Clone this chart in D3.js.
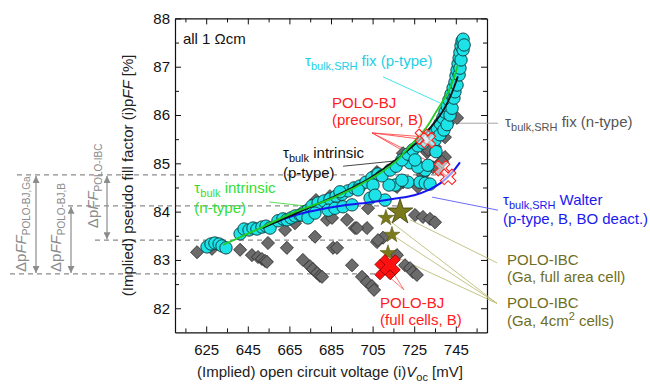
<!DOCTYPE html>
<html>
<head>
<meta charset="utf-8">
<script src="https://cdn.jsdelivr.net/npm/d3@7"></script>
<style>
  body { margin: 0; background: #fff; }
  svg { font-family: "Liberation Sans", Arial, sans-serif; }
</style>
</head>
<body>
<script>
// ---- data ----
const xTicks = [615, 625, 635, 645, 655, 665, 675, 685, 695, 705, 715, 725, 735, 745, 755];
const xTickLabels = [625, 645, 665, 685, 705, 725, 745];
const yTicks = [82, 82.5, 83, 83.5, 84, 84.5, 85, 85.5, 86, 86.5, 87, 87.5, 88];
const yTickLabels = [82, 83, 84, 85, 86, 87, 88];

// cyan circles: tau_bulk,SRH fix (p-type) simulations [Voc, pFF]
const cyanPoints = [
  [625.4,83.27],[627.3,83.33],[629.2,83.35],[631.2,83.33],[632.6,83.29],[634.5,83.25],
  [641.3,83.54],[643.2,83.64],[645.6,83.62],[647.5,83.66],[649.4,83.64],[651.8,83.68],[653.8,83.70],[655.7,83.66],
  [659.5,83.81],[661.9,83.85],[663.8,83.83],[665.8,83.87],[667.7,83.91],[670.1,83.93],[672.0,83.99],[673.9,84.03],
  [675.9,84.12],[678.8,84.18],[681.6,84.22],[684.5,84.26],[687.4,84.32],[690.3,84.36],[693.2,84.43],[696.1,84.49],
  [698.9,84.53],[701.8,84.61],[704.7,84.70],[707.6,84.78],
  [670.9,83.93],[673.9,83.87],[677.3,83.97],[683.6,84.03],[686.9,84.07],[690.8,84.10],[695.1,84.14],[703.8,84.28],[711.0,84.24],
  [689.3,84.41],[698.0,84.45],[705.2,84.55],[706.2,84.34],[715.8,84.55],
  [712.9,84.55],[722.0,84.61],[727.8,84.61],[730.3,84.59],[732.6,84.57],[730.3,84.86],[723.0,85.01],
  [709.5,84.74],[713.4,84.86],[716.3,84.94],[719.1,85.07],[722.0,85.19],[724.4,85.28],[726.8,85.36],[729.2,85.42],
  [731.6,85.52],[734.0,85.63],[736.0,85.73],[737.4,85.83],[738.8,85.94],[739.8,86.06],[740.8,86.19],[741.7,86.31],
  [742.7,86.43],[743.7,86.56],[744.6,86.68],[745.1,86.81],[745.6,86.93],[746.1,87.06],[746.6,87.18],[747.0,87.30],
  [747.5,87.43],[748.0,87.53],[748.5,87.57],
  [735.0,85.48],[737.4,85.59],[739.3,85.69],[740.8,85.80],[742.2,86.00],[743.2,86.14],[744.1,86.35],[744.6,86.48],
  [745.6,86.62],[746.6,86.83],[747.0,86.97],[747.5,87.14],[748.5,87.35],[749.0,87.45],
  [719.1,84.65],[726.8,84.92],[731.6,84.96],[735.5,85.24],[725.4,85.07]
];

// grey diamonds: tau_bulk,SRH fix (n-type) simulations [Voc, pFF]
const greyPoints = [
  [620.6,83.16],[627.8,83.23],[641.3,83.21],[647.0,83.10],[649.9,83.06],[651.8,83.02],[653.3,82.98],[654.2,82.96],
  [654.7,83.35],[662.9,83.62],[663.8,83.25],[671.5,83.00],[674.9,82.87],[676.3,82.81],[678.3,82.73],[679.7,82.67],
  [680.7,82.65],[683.1,83.83],[686.0,83.25],[695.1,82.89],[699.9,82.65],[702.3,82.54],[704.7,82.46],[705.7,82.38],
  [702.3,83.66],[692.7,83.83],[702.8,84.07],[677.3,83.48],[687.9,83.25],[707.1,83.37],[710.0,83.46],[716.7,83.10],
  [720.6,82.89],[723.0,82.83],[724.4,82.75],[726.3,82.69],[725.4,83.93],[729.2,83.89],[732.6,83.85],[735.0,83.78],
  [696.5,83.66],[707.6,83.41],[719.6,85.21],[718.2,84.61],[707.1,84.82],[685.5,83.87],[697.5,83.66],[667.7,83.76],
  [742.2,85.96],[741.3,85.83],[745.6,85.94],[739.8,85.54],[735.0,85.34],[731.2,85.23],[723.0,85.13],[719.6,84.61],
  [716.7,84.51],[739.8,85.13],[737.4,85.01],[734.0,84.92],[736.4,84.90],[731.6,85.28],[738.4,85.03],[729.2,84.76],
  [726.8,84.51],[677.8,84.24],[684.5,84.32]
];

// model curves
const greenCurve = [[633,83.31],[652,83.68],[668,84.0],[687,84.30],[705,84.70],[716,85.03],[720,85.21],[727,85.55],[731,85.75],[736,86.1],[741,86.45],[744,86.75],[746,87.04]];
const blackCurve = [[652,83.66],[668,83.96],[687,84.32],[700,84.6],[710,84.88],[720,85.2],[728,85.5],[734,85.8],[739,86.1],[743,86.45],[746,86.8]];
const blueCurve = [[658,83.78],[668,83.93],[678,84.03],[690,84.12],[705,84.2],[716,84.27],[725,84.34],[732,84.45],[738,84.6],[743,84.8],[747,85.02]];

// measured samples
const precursorBJ = [[729.2,85.55],[731.6,85.48],[738.4,84.90],[741.3,84.72]];
const fullCellsBJ = [[711.0,82.80],[713.4,82.90]];
const iBCfullArea = [[718.2,83.99]];
const iBC4cm2 = [[711.4,83.87],[714.3,83.52],[712.4,83.14]];

// pFF reference levels
const pffLevels = [84.76, 84.12, 83.41, 82.71];

// ---- layout ----
const width = 650, height = 384;
const svg = d3.select("body").append("svg").attr("width", width).attr("height", height);

const x = d3.scaleLinear().domain([610, 760]).range([175, 487]);
const y = d3.scaleLinear().domain([81.5, 88]).range([332.4, 18.4]);

const grey = "#8c8c8c";
const defs = svg.append("defs");
["start", "end"].forEach(k => {
  defs.append("marker")
    .attr("id", "arr-" + k)
    .attr("viewBox", "0 0 10 10")
    .attr("refX", k === "end" ? 10 : 0).attr("refY", 5)
    .attr("markerWidth", 7).attr("markerHeight", 7)
    .attr("markerUnits", "userSpaceOnUse")
    .attr("orient", "auto")
    .append("path")
    .attr("d", k === "end" ? "M0,0L10,5L0,10z" : "M10,0L0,5L10,10z")
    .attr("fill", grey);
});

// dashed reference lines (left start in px, right end in data)
const dashStart = [17, 68, 95, 10];
const dashEnd = [740, 718, 713, 711];
svg.selectAll("line.dash").data(pffLevels).enter().append("line")
  .attr("class", "dash")
  .attr("x1", (d, i) => dashStart[i]).attr("x2", (d, i) => x(dashEnd[i]))
  .attr("y1", d => y(d)).attr("y2", d => y(d))
  .attr("stroke", grey).attr("stroke-width", 1.2).attr("stroke-dasharray", "5,4");

// delta pFF arrows
const arrows = [
  { px: 36, from: pffLevels[0], to: pffLevels[3], lx: 26, sub: "POLO-BJ,Ga" },
  { px: 71, from: pffLevels[1], to: pffLevels[3], lx: 61, sub: "POLO-BJ,B" },
  { px: 107, from: pffLevels[0], to: pffLevels[2], lx: 98, sub: "POLO-IBC" }
];
svg.selectAll("line.arrow").data(arrows).enter().append("line")
  .attr("x1", d => d.px).attr("x2", d => d.px)
  .attr("y1", d => y(d.from) + 1).attr("y2", d => y(d.to) - 1)
  .attr("stroke", grey).attr("stroke-width", 1.2)
  .attr("marker-start", "url(#arr-start)").attr("marker-end", "url(#arr-end)");
arrows.forEach(a => {
  const t = svg.append("text")
    .attr("transform", `translate(${a.lx},${y(a.to) - 2 - (a.sub === "POLO-IBC" ? 10 : 0)}) rotate(-90)`)
    .attr("fill", grey).attr("font-size", 15);
  t.append("tspan").text("\u0394p");
  t.append("tspan").attr("font-style", "italic").text("FF");
  t.append("tspan").attr("font-size", 10).attr("dy", 4).text(a.sub);
});

// axes
const fmtX = d => xTickLabels.includes(d) ? d : "";
const fmtY = d => yTickLabels.includes(d) ? d : "";
const gB = svg.append("g").attr("transform", `translate(0,${y(81.5)})`)
  .call(d3.axisBottom(x).tickValues(xTicks).tickSize(-5).tickSizeOuter(0).tickPadding(12).tickFormat(fmtX));
const gT = svg.append("g").attr("transform", `translate(0,${y(88)})`)
  .call(d3.axisTop(x).tickValues(xTicks).tickSize(-5).tickSizeOuter(0).tickFormat(""));
const gL = svg.append("g").attr("transform", `translate(${x(610)},0)`)
  .call(d3.axisLeft(y).tickValues(yTicks).tickSize(-5).tickSizeOuter(0).tickPadding(5).tickFormat(fmtY));
const gR = svg.append("g").attr("transform", `translate(${x(760)},0)`)
  .call(d3.axisRight(y).tickValues(yTicks).tickSize(-5).tickSizeOuter(0).tickFormat(""));
[gB, gT, gL, gR].forEach(g => {
  g.selectAll("text").attr("font-size", 15).attr("fill", "#111")
    .attr("font-family", "Liberation Sans, Arial, sans-serif");
  g.select(".domain").attr("stroke", "#111").attr("stroke-width", 1.2);
  g.selectAll(".tick line").attr("stroke", "#111");
});
gB.selectAll(".tick line").attr("y2", d => xTickLabels.includes(d) ? -6 : -4);
gT.selectAll(".tick line").attr("y2", d => xTickLabels.includes(d) ? 6 : 4);
gL.selectAll(".tick line").attr("x2", d => Number.isInteger(d) ? 6 : 4);
gR.selectAll(".tick line").attr("x2", d => Number.isInteger(d) ? -6 : -4);

// axis titles
const yl = svg.append("text").attr("transform", `translate(133,${(y(81.5) + y(88)) / 2}) rotate(-90)`)
  .attr("text-anchor", "middle").attr("font-size", 15).attr("fill", "#222");
yl.append("tspan").text("(Implied) pseudo fill factor (i)p");
yl.append("tspan").attr("font-style", "italic").text("FF");
yl.append("tspan").text(" [%]");
const xl = svg.append("text").attr("x", 330).attr("y", 377)
  .attr("text-anchor", "middle").attr("font-size", 15).attr("fill", "#222");
xl.append("tspan").text("(Implied) open circuit voltage (i)");
xl.append("tspan").attr("font-style", "italic").text("V");
xl.append("tspan").attr("font-size", 11).attr("dy", 4).text("oc");
xl.append("tspan").attr("dy", -4).text(" [mV]");

// leader lines
const olive = "#7a7a1c";
const leaders = [
  { p: [[710, 86.79], [737.4, 86.25]], c: "#33e0ee" },
  { p: [[704.7, 85.63], [729.2, 85.55]], c: "#ff4a4a" },
  { p: [[704.7, 85.63], [731.6, 85.48]], c: "#ff4a4a" },
  { p: [[704.7, 85.63], [738.4, 84.90]], c: "#ff4a4a" },
  { p: [[704.7, 85.63], [741.3, 84.72]], c: "#ff4a4a" },
  { p: [[690.8, 84.94], [720.6, 85.07]], c: "#333" },
  { p: [[655.3, 84.20], [672, 84.12]], c: "#44dd44" },
  { p: [[745.6, 85.83], [765.3, 85.83]], c: "#999" },
  { p: [[733.6, 84.30], [765.3, 84.03]], c: "#5a5aff" },
  { p: [[723, 83.83], [764.8, 82.94]], c: "#bdbd78" },
  { p: [[711.4, 83.87], [764.8, 82.10]], c: "#bdbd78" },
  { p: [[714.3, 83.52], [764.8, 82.10]], c: "#bdbd78" },
  { p: [[712.4, 83.14], [764.8, 82.10]], c: "#bdbd78" },
  { p: [[711.0, 82.72], [720.1, 82.38]], c: "#ff6a6a" },
  { p: [[714.0, 82.80], [720.1, 82.38]], c: "#ff6a6a" }
];
svg.selectAll("line.leader").data(leaders).enter().append("line")
  .attr("x1", d => x(d.p[0][0])).attr("y1", d => y(d.p[0][1]))
  .attr("x2", d => x(d.p[1][0])).attr("y2", d => y(d.p[1][1]))
  .attr("stroke", d => d.c).attr("stroke-width", 0.9);

// grey diamonds
svg.selectAll("path.grey").data(greyPoints).enter().append("path")
  .attr("d", d3.symbol(d3.symbolSquare, 85)())
  .attr("transform", d => `translate(${x(d[0])},${y(d[1])}) rotate(45)`)
  .attr("fill", "#6b6b6b").attr("stroke", "#2a2a2a").attr("stroke-width", 0.8);

// cyan circles
svg.selectAll("circle.cyan").data(cyanPoints).enter().append("circle")
  .attr("cx", d => x(d[0])).attr("cy", d => y(d[1])).attr("r", 6.2)
  .attr("fill", "#1de3e8").attr("stroke", "#0c3335").attr("stroke-width", 0.9);

// curves
const line = d3.line().x(d => x(d[0])).y(d => y(d[1])).curve(d3.curveCatmullRom);
svg.append("path").datum(blueCurve).attr("d", line).attr("fill", "none").attr("stroke", "#1515f0").attr("stroke-width", 2);
svg.append("path").datum(blackCurve).attr("d", line).attr("fill", "none").attr("stroke", "#111").attr("stroke-width", 1.8);
svg.append("path").datum(greenCurve).attr("d", line).attr("fill", "none").attr("stroke", "#22cc22").attr("stroke-width", 1.8);

// POLO-BJ precursor: open crosses
svg.selectAll("path.pre").data(precursorBJ).enter().append("path")
  .attr("d", d3.symbol(d3.symbolCross, 150)())
  .attr("transform", d => `translate(${x(d[0])},${y(d[1])}) rotate(45)`)
  .attr("fill", "#fff").attr("fill-opacity", 0.55).attr("stroke", "#ff2020").attr("stroke-width", 1.1);

// POLO-IBC stars
svg.selectAll("path.ibc4").data(iBC4cm2).enter().append("path")
  .attr("d", d3.symbol(d3.symbolStar, 80)())
  .attr("transform", d => `translate(${x(d[0])},${y(d[1])})`)
  .attr("fill", olive).attr("stroke", "#4d4d10").attr("stroke-width", 0.5);
svg.selectAll("path.ibcf").data(iBCfullArea).enter().append("path")
  .attr("d", d3.symbol(d3.symbolStar, 200)())
  .attr("transform", d => `translate(${x(d[0])},${y(d[1])})`)
  .attr("fill", olive).attr("stroke", "#3d3d0a").attr("stroke-width", 0.8);

// POLO-BJ full cells: filled X
svg.selectAll("path.full").data(fullCellsBJ).enter().append("path")
  .attr("d", d3.symbol(d3.symbolCross, 260)())
  .attr("transform", d => `translate(${x(d[0])},${y(d[1])}) rotate(45)`)
  .attr("fill", "#ff1010").attr("stroke", "#8a0000").attr("stroke-width", 0.8);

// annotation texts: parts ["text", kind]
function label(px, py, color, lines) {
  lines.forEach((parts, li) => {
    const t = svg.append("text").attr("x", x(px)).attr("y", y(py[li]))
      .attr("fill", color).attr("font-size", 15);
    let shift = 0;
    parts.forEach(([s, k]) => {
      const sp = t.append("tspan").text(s);
      if (k === "sub") { sp.attr("font-size", 11).attr("dy", 4 - shift); shift = 4; }
      else if (k === "sup") { sp.attr("font-size", 11).attr("dy", -6 - shift); shift = -6; }
      else { if (shift) sp.attr("dy", -shift); shift = 0; }
    });
  });
}
label(613.8, [87.47], "#111", [[["all 1 \u03a9cm", ""]]]);
label(672.5, [87.01], "#22cfe6", [[["\u03c4", ""], ["bulk,SRH", "sub"], [" fix (p-type)", ""]]]);
label(685.5, [86.14, 85.79], "#ff2020", [[["POLO-BJ", ""]], [["(precursor, B)", ""]]]);
label(661.9, [85.11, 84.70], "#111", [[["\u03c4", ""], ["bulk", "sub"], [" intrinsic", ""]], [["(p-type)", ""]]]);
label(619.3, [84.39, 83.97], "#33dd33", [[["\u03c4", ""], ["bulk", "sub"], [" intrinsic", ""]], [["(n-type)", ""]]]);
label(768.7, [85.75], "#555", [[["\u03c4", ""], ["bulk,SRH", "sub"], [" fix (n-type)", ""]]]);
label(767.7, [84.14, 83.74], "#1a1aee", [[["\u03c4", ""], ["bulk,SRH", "sub"], [" Walter", ""]], [["(p-type, B, BO deact.)", ""]]]);
label(769.6, [82.90, 82.55], "#6e6e1e", [[["POLO-IBC", ""]], [["(Ga, full area cell)", ""]]]);
label(769.6, [82.0, 81.63], "#6e6e1e", [[["POLO-IBC", ""]], [["(Ga, 4cm", ""], ["2", "sup"], [" cells)", ""]]]);
label(708.6, [82.0, 81.65], "#ff2020", [[["POLO-BJ", ""]], [["(full cells, B)", ""]]]);
</script>
</body>
</html>
